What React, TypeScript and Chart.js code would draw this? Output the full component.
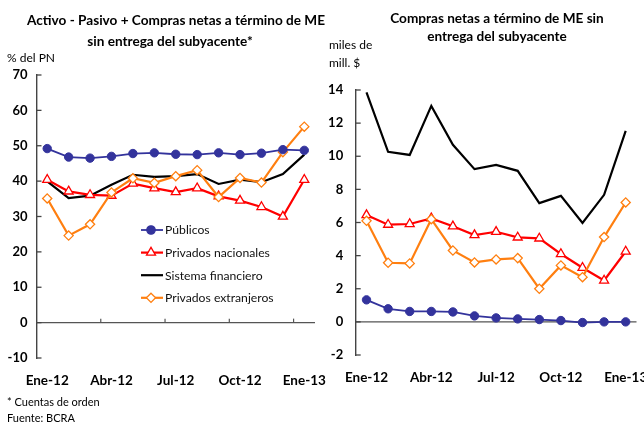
import React, { useEffect, useRef } from 'react';
import { Chart, registerables } from 'chart.js';

Chart.register(...registerables);

const FONT = 'Lato, "DejaVu Sans", sans-serif';

const categories = ['Ene-12', 'Feb-12', 'Mar-12', 'Abr-12', 'May-12', 'Jun-12', 'Jul-12', 'Ago-12', 'Sep-12', 'Oct-12', 'Nov-12', 'Dic-12', 'Ene-13'];

// Left chart: % del PN
const publicosPct = [49.2, 46.8, 46.5, 47.0, 47.8, 48.0, 47.6, 47.5, 48.0, 47.5, 47.9, 48.9, 48.7];
const nacionalesPct = [40.4, 37.1, 36.1, 35.9, 39.3, 38.0, 36.9, 38.0, 35.7, 34.5, 32.7, 30.0, 40.4];
const sistemaPct = [39.9, 35.2, 35.9, 39.0, 41.8, 41.2, 41.4, 42.0, 39.2, 40.4, 39.7, 42.0, 47.5];
const extranjerosPct = [35.1, 24.6, 27.8, 36.8, 40.8, 39.5, 41.4, 43.1, 35.5, 40.9, 39.6, 48.2, 55.4];

// Right chart: miles de mill. $
const sistemaMM = [13.86, 10.27, 10.08, 13.04, 10.69, 9.22, 9.48, 9.12, 7.17, 7.61, 5.97, 7.67, 11.53];
const nacionalesMM = [6.45, 5.87, 5.91, 6.25, 5.77, 5.24, 5.44, 5.10, 5.04, 4.1, 3.27, 2.5, 4.25];
const extranjerosMM = [6.1, 3.57, 3.53, 6.2, 4.31, 3.59, 3.77, 3.85, 2.0, 3.41, 2.7, 5.12, 7.21];
const publicosMM = [1.33, 0.79, 0.63, 0.63, 0.6, 0.36, 0.24, 0.18, 0.14, 0.08, -0.04, 0, 0];

const seriesNames = ['Públicos', 'Privados nacionales', 'Sistema financiero', 'Privados extranjeros'];
const labelEvery = 3;

const BLUE = '#33339c';
const RED = '#ff0000';
const BLACK = '#000000';
const ORANGE = '#ff7f10';

function buildDatasets(pub: number[], nac: number[], sis: number[], ext: number[]) {
  return [
    {
      label: seriesNames[0], data: pub, borderColor: BLUE, backgroundColor: BLUE, borderWidth: 1.8,
      pointStyle: 'circle', pointRadius: 4.2, pointBackgroundColor: BLUE, pointBorderColor: BLUE, pointBorderWidth: 1, order: 0,
    },
    {
      label: seriesNames[1], data: nac, borderColor: RED, backgroundColor: RED, borderWidth: 2.2,
      pointStyle: 'triangle', pointRadius: 5.2, pointBackgroundColor: '#ffffff', pointBorderColor: RED, pointBorderWidth: 1.3, order: 2,
    },
    {
      label: seriesNames[2], data: sis, borderColor: BLACK, backgroundColor: BLACK, borderWidth: 2.2,
      pointRadius: 0, order: 3,
    },
    {
      label: seriesNames[3], data: ext, borderColor: ORANGE, backgroundColor: ORANGE, borderWidth: 2.2,
      pointStyle: 'rectRot', pointRadius: 4.6, pointBackgroundColor: '#ffffff', pointBorderColor: ORANGE, pointBorderWidth: 1.3, order: 1,
    },
  ];
}

function drawMarker(ctx: CanvasRenderingContext2D, style: string, x: number, y: number, r: number, fill: string, stroke: string) {
  ctx.beginPath();
  if (style === 'circle') {
    ctx.arc(x, y, r, 0, Math.PI * 2);
  } else if (style === 'triangle') {
    for (let k = 0; k < 3; k++) {
      const a = (k * 2 * Math.PI) / 3;
      const px = x + Math.sin(a) * r;
      const py = y - Math.cos(a) * r;
      if (k === 0) ctx.moveTo(px, py); else ctx.lineTo(px, py);
    }
    ctx.closePath();
  } else if (style === 'rectRot') {
    ctx.moveTo(x, y - r); ctx.lineTo(x + r, y); ctx.lineTo(x, y + r); ctx.lineTo(x - r, y); ctx.closePath();
  }
  ctx.fillStyle = fill; ctx.fill();
  ctx.strokeStyle = stroke; ctx.lineWidth = 1.3; ctx.stroke();
}

function makeDecor(zeroTicks: boolean, legend: { x: number; y: number; gap: number } | null) {
  return {
    id: 'decor',
    beforeDatasetsDraw(chart: any) {
      const { ctx, chartArea, scales } = chart;
      const ys = scales.y; const xs = scales.x;
      ctx.save();
      const y0 = ys.getPixelForValue(0);
      ctx.strokeStyle = '#555555'; ctx.lineWidth = 1.2;
      ctx.beginPath(); ctx.moveTo(chartArea.left, y0); ctx.lineTo(chartArea.right, y0); ctx.stroke();
      ctx.strokeStyle = '#444444'; ctx.lineWidth = 1.3;
      ys.ticks.forEach((t: any) => {
        const py = ys.getPixelForValue(t.value);
        ctx.beginPath(); ctx.moveTo(chartArea.left, py); ctx.lineTo(chartArea.left + 5, py); ctx.stroke();
      });
      if (zeroTicks) {
        ctx.strokeStyle = '#555555'; ctx.lineWidth = 1.2;
        for (let i = labelEvery - 1; i < categories.length - 1; i += labelEvery) {
          const px = (xs.getPixelForValue(i) + xs.getPixelForValue(i + 1)) / 2;
          ctx.beginPath(); ctx.moveTo(px, y0); ctx.lineTo(px, y0 - 4); ctx.stroke();
        }
      }
      ctx.restore();
    },
    afterDatasetsDraw(chart: any) {
      if (!legend) return;
      const { ctx } = chart;
      ctx.save();
      ctx.font = '12.2px ' + FONT;
      ctx.textBaseline = 'middle';
      ctx.textAlign = 'left';
      chart.data.datasets.forEach((ds: any, i: number) => {
        const y = legend.y + i * legend.gap;
        ctx.strokeStyle = ds.borderColor; ctx.lineWidth = ds.borderWidth;
        ctx.beginPath(); ctx.moveTo(legend.x, y); ctx.lineTo(legend.x + 22, y); ctx.stroke();
        if (ds.pointRadius > 0) {
          drawMarker(ctx, ds.pointStyle, legend.x + 10, y, ds.pointRadius, ds.pointBackgroundColor, ds.pointBorderColor);
        }
        ctx.fillStyle = '#111111';
        ctx.fillText(ds.label, legend.x + 24, y + 0.5);
      });
      ctx.restore();
    },
  };
}

function makeConfig(datasets: any[], yMin: number, yMax: number, step: number, yWidth: number, yPad: number,
  padding: any, zeroTicks: boolean, legend: any) {
  return {
    type: 'line',
    data: { labels: categories, datasets },
    options: {
      responsive: false,
      animation: false,
      layout: { padding },
      plugins: { legend: { display: false }, tooltip: { enabled: false }, title: { display: false } },
      elements: { line: { tension: 0 } },
      scales: {
        x: {
          type: 'category',
          offset: true,
          grid: { display: false, drawTicks: false },
          border: { display: false },
          ticks: {
            autoSkip: false, maxRotation: 0, minRotation: 0, padding: 15, color: '#000000',
            font: { family: FONT, size: 13.5, weight: 'bold' },
            callback: (_v: any, i: number) => (i % labelEvery === 0 ? categories[i] : ''),
          },
          afterFit: (s: any) => { s.height = 35; },
        },
        y: {
          min: yMin, max: yMax,
          grid: { display: false, drawTicks: false },
          border: { display: true, color: '#444444', width: 1.4 },
          ticks: { stepSize: step, padding: yPad, color: '#000000', font: { family: FONT, size: 13, weight: 'bold' } },
          afterFit: (s: any) => { s.width = yWidth; },
        },
      },
    },
    plugins: [makeDecor(zeroTicks, legend)],
  };
}

const txt = (extra: any) => ({ position: 'absolute', whiteSpace: 'nowrap', fontFamily: FONT, color: '#000', lineHeight: '16px', ...extra });

export default function App() {
  const leftRef = useRef<HTMLCanvasElement>(null);
  const rightRef = useRef<HTMLCanvasElement>(null);

  useEffect(() => {
    const left = new Chart(leftRef.current as HTMLCanvasElement, makeConfig(
      buildDatasets(publicosPct, nacionalesPct, sistemaPct, extranjerosPct),
      -10, 70, 10, 36.5, 9, { left: 0, right: 30, top: 75, bottom: 30 }, true,
      { x: 141, y: 230, gap: 22.6 }) as any);
    const right = new Chart(rightRef.current as HTMLCanvasElement, makeConfig(
      buildDatasets(publicosMM, nacionalesMM, sistemaMM, extranjerosMM),
      -2, 14, 2, 33.7, 12.5, { left: 0, right: 35.5, top: 90, bottom: 33 }, false, null) as any);
    return () => { left.destroy(); right.destroy(); };
  }, []);

  return (
    <div style={{ position: 'absolute', left: 0, top: 0, width: 644, height: 423, overflow: 'hidden', background: '#fff' }}>
      <canvas ref={leftRef} width={345} height={423} style={{ position: 'absolute', left: 0, top: 0 }} />
      <canvas ref={rightRef} width={350} height={423} style={{ position: 'absolute', left: 322, top: 0 }} />
      <div style={txt({ left: 0, width: 352, top: 12, textAlign: 'center', fontWeight: 'bold', fontSize: 13.6 })}>Activo - Pasivo + Compras netas a término de ME</div>
      <div style={txt({ left: 0, width: 340, top: 33, textAlign: 'center', fontWeight: 'bold', fontSize: 13.6 })}>sin entrega del subyacente*</div>
      <div style={txt({ left: 7, top: 50, fontSize: 12 })}>% del PN</div>
      <div style={txt({ left: 360, width: 274, top: 10, textAlign: 'center', fontWeight: 'bold', fontSize: 13.6 })}>Compras netas a término de ME sin</div>
      <div style={txt({ left: 360, width: 274, top: 28, textAlign: 'center', fontWeight: 'bold', fontSize: 13.6 })}>entrega del subyacente</div>
      <div style={txt({ left: 329, top: 37, fontSize: 12 })}>miles de</div>
      <div style={txt({ left: 329, top: 55, fontSize: 12 })}>mill. $</div>
      <div style={txt({ left: 7, top: 394, fontSize: 11 })}>* Cuentas de orden</div>
      <div style={txt({ left: 7, top: 410, fontSize: 11 })}>Fuente: BCRA</div>
    </div>
  );
}
